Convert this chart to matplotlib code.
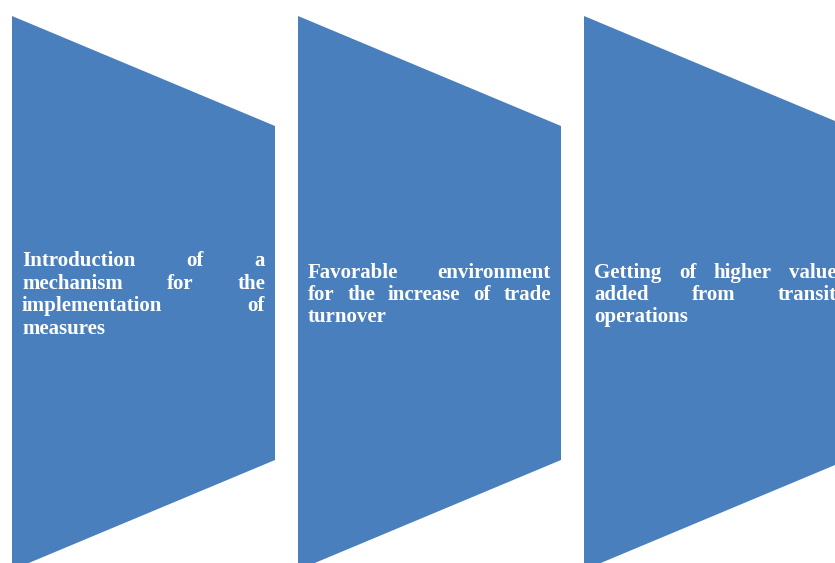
import matplotlib.pyplot as plt
from matplotlib.patches import Polygon

# text of the three blocks, one list entry per line as laid out in the picture
labels = [
    ['Introduction of a', 'mechanism for the', 'implementation of', 'measures'],
    ['Favorable environment', 'for the increase of trade', 'turnover'],
    ['Getting of higher value', 'added from transit', 'operations'],
]

# geometry of the blocks (pixels)
left0 = 12       # left edge of first block
step = 286       # distance between blocks
width = 263      # block width
top = 16         # top of the tall (left) side
drop = 110       # how much lower the right side starts
height = 554     # height of the left side
pad = 10         # text padding inside block
line_h = 22.4    # line spacing
mid = 293        # vertical centre of the blocks

color = '#4A7FBD'

fig = plt.figure(figsize=(8.35, 5.63), dpi=100)
ax = fig.add_axes([0, 0, 1, 1])
ax.set_xlim(0, 835)
ax.set_ylim(563, 0)
ax.axis('off')

renderer = fig.canvas.get_renderer()
font = dict(family='Liberation Serif', weight='bold', size=15, color='white')

for i, lines in enumerate(labels):
    x0 = left0 + i * step
    pts = [(x0, top), (x0 + width, top + drop),
           (x0 + width, top + height - drop), (x0, top + height)]
    ax.add_patch(Polygon(pts, closed=True, fc=color, ec='none'))

    # justified text block
    xl = x0 + pad
    xr = x0 + width - pad
    n = len(lines)
    y_first = mid - (n - 1) * line_h / 2 + 7
    for j, line in enumerate(lines):
        y = y_first + j * line_h
        words = line.split()
        texts = [ax.text(0, y, w, ha='left', va='baseline', **font)
                 for w in words]
        widths = [t.get_window_extent(renderer).width for t in texts]
        if j < n - 1 and len(words) > 1:
            gap = (xr - xl - sum(widths)) / (len(words) - 1)
        else:
            gap = 0.25 * 20.8
        x = xl
        for t, w in zip(texts, widths):
            t.set_x(x)
            x += w + gap

fig.savefig('out.png', dpi=100)
